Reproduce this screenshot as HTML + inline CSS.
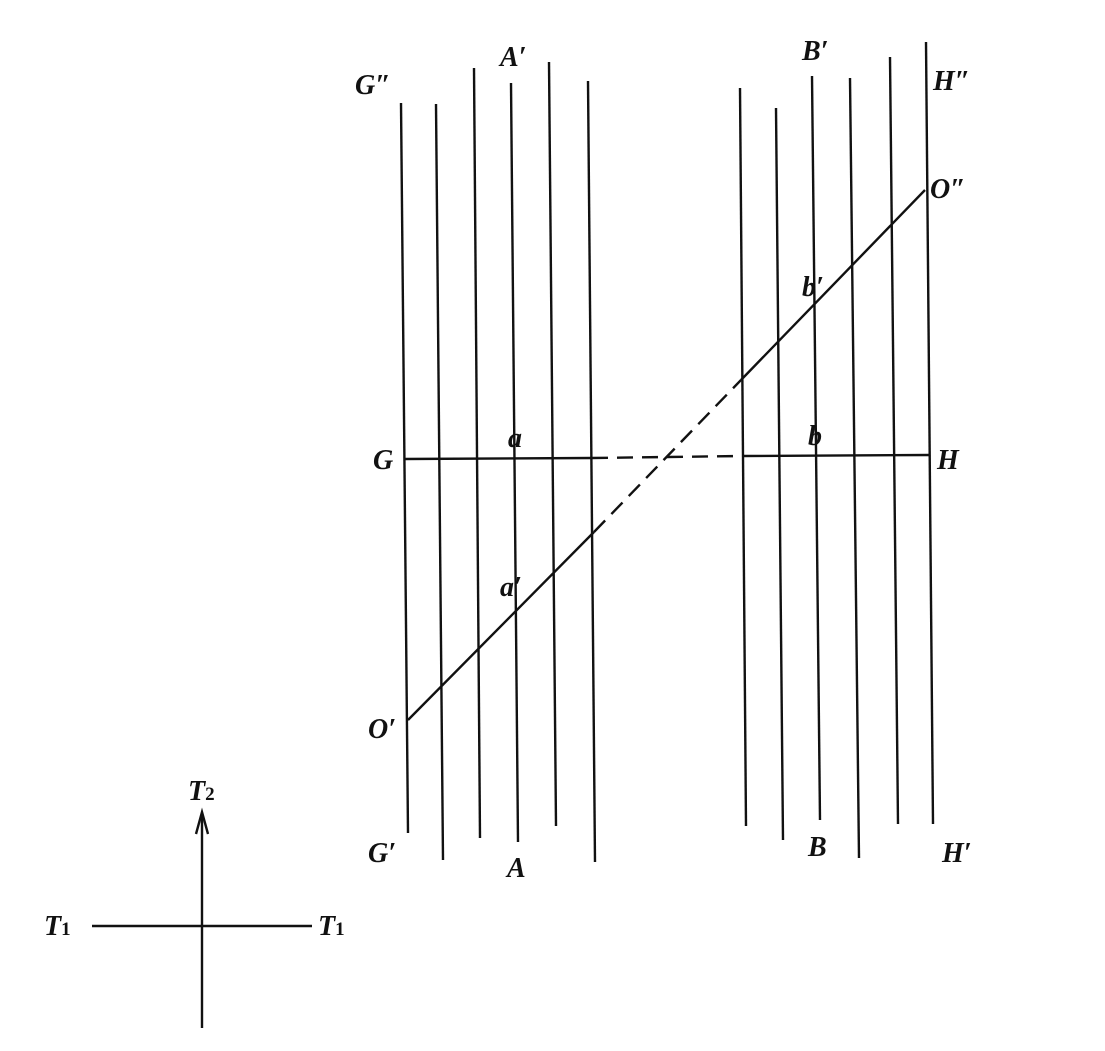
<!DOCTYPE html>
<html><head><meta charset="utf-8"><style>
html,body{margin:0;padding:0;background:#fff}
text{font-family:"Liberation Serif",serif;font-style:italic;font-weight:bold;font-size:28px;fill:#111}
</style></head><body>
<svg width="1105" height="1046" viewBox="0 0 1105 1046" xmlns="http://www.w3.org/2000/svg">
<g stroke="#111" stroke-width="2.4" fill="none">
<line x1="401" y1="103" x2="408" y2="833"/>
<line x1="436" y1="104" x2="443" y2="860"/>
<line x1="474" y1="68" x2="480" y2="838"/>
<line x1="511" y1="83" x2="518" y2="842"/>
<line x1="549" y1="62" x2="556" y2="826"/>
<line x1="588" y1="81" x2="595" y2="862"/>
<line x1="740" y1="88" x2="746" y2="826"/>
<line x1="776" y1="108" x2="783" y2="840"/>
<line x1="812" y1="76" x2="820" y2="820"/>
<line x1="850" y1="78" x2="859" y2="858"/>
<line x1="890" y1="57" x2="898" y2="824"/>
<line x1="926" y1="42" x2="933" y2="824"/>
<line x1="404" y1="459" x2="592" y2="458"/>
<line x1="592" y1="458" x2="742" y2="456" stroke-dasharray="16,9"/>
<line x1="742" y1="456" x2="930" y2="455"/>
<line x1="408" y1="720" x2="594" y2="532"/>
<line x1="594" y1="532" x2="741" y2="380" stroke-dasharray="16,9"/>
<line x1="741" y1="380" x2="925" y2="190"/>
<line x1="92" y1="926" x2="312" y2="926"/>
<line x1="202" y1="1028" x2="202" y2="814"/>
<polyline points="196,834 202,812 208,834"/>
</g>
<text x="355" y="94">G″</text>
<text x="500" y="66">A′</text>
<text x="802" y="60">B′</text>
<text x="933" y="90">H″</text>
<text x="930" y="198">O″</text>
<text x="802" y="296">b′</text>
<text x="508" y="447">a</text>
<text x="808" y="445">b</text>
<text x="373" y="469">G</text>
<text x="937" y="469">H</text>
<text x="500" y="596">a′</text>
<text x="368" y="738">O′</text>
<text x="368" y="862">G′</text>
<text x="507" y="877">A</text>
<text x="808" y="856">B</text>
<text x="942" y="862">H′</text>
<text x="188" y="800">T<tspan font-size="19" font-style="normal">2</tspan></text>
<text x="44" y="935">T<tspan font-size="19" font-style="normal">1</tspan></text>
<text x="318" y="935">T<tspan font-size="19" font-style="normal">1</tspan></text>
</svg>
</body></html>
